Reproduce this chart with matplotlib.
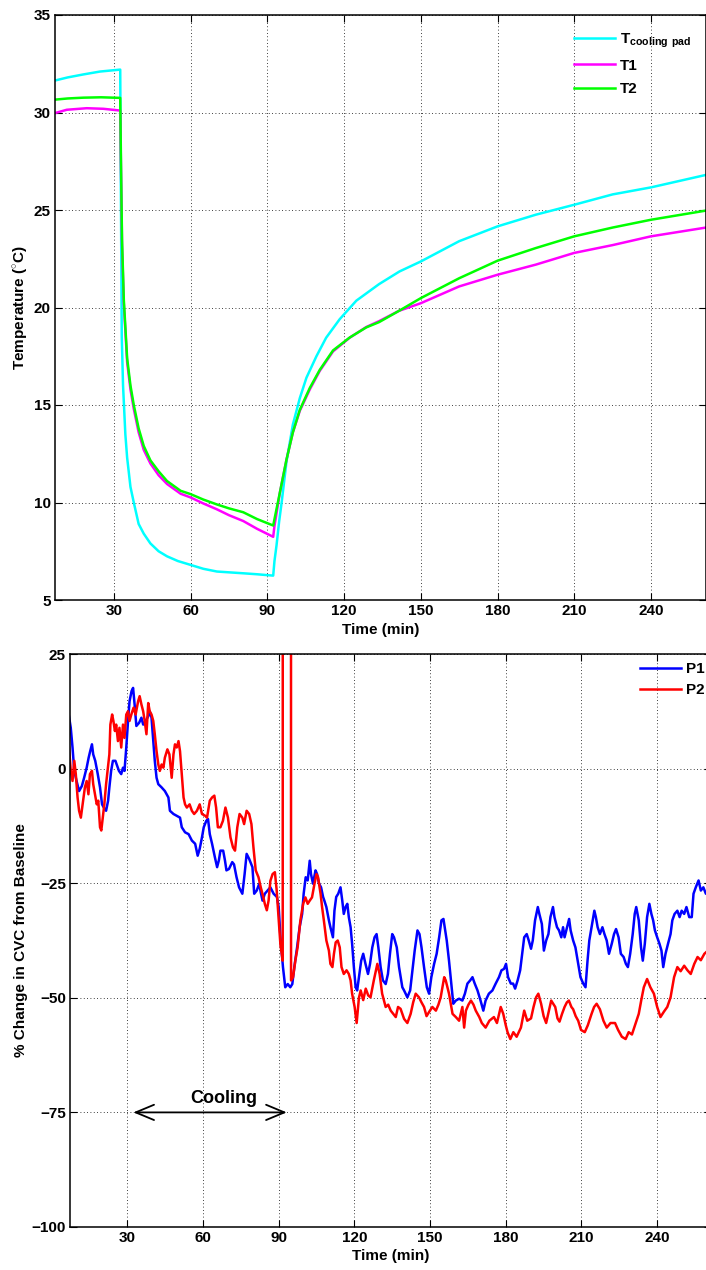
import matplotlib
matplotlib.use("Agg")
import matplotlib.pyplot as plt

plt.rcParams['font.family'] = ['Liberation Sans', 'DejaVu Sans']
plt.rcParams['font.weight'] = 'bold'
plt.rcParams['mathtext.fontset'] = 'custom'
plt.rcParams['mathtext.rm'] = 'Liberation Sans:bold'
plt.rcParams['mathtext.bf'] = 'Liberation Sans:bold'
plt.rcParams['axes.unicode_minus'] = True

# ---- top panel: temperatures (deg C) ----
t_pad = [7, 12, 18, 24.6, 32.5, 32.8, 33.1, 33.6, 34.5, 35.2, 36.5, 37.8, 39.7, 41.7,
         44.3, 47.5, 50.8, 55, 60, 65, 70.3, 80.6, 86, 92.3, 92.8, 93.6, 94.6, 95.6,
         97.5, 100, 102.7, 105.3, 109.2, 113, 118.3, 124.8, 133.7, 141.7, 150, 165,
         180, 195, 210, 225, 240, 261.5]
T_pad = [31.64, 31.8, 31.95, 32.1, 32.2, 25.0, 18.5, 16.0, 13.5, 12.3, 10.8, 10.0, 8.9, 8.4,
         7.9, 7.5, 7.24, 7.0, 6.8, 6.6, 6.46, 6.37, 6.32, 6.25, 7.0, 7.8, 9.0, 10.0,
         12.1, 14.0, 15.35, 16.4, 17.5, 18.45, 19.4, 20.35, 21.2, 21.85, 22.36, 23.4,
         24.16, 24.76, 25.27, 25.8, 26.16, 26.8]

t_T1 = [7, 11.6, 19.4, 25.9, 32.5, 32.7, 32.9, 33.2, 33.9, 35.2, 36.5, 37.8, 39.7, 41.7,
        44.3, 47.5, 50.8, 56.1, 60, 65, 70.3, 75, 80.6, 86, 92.3, 92.8, 94.9, 97.5, 100,
        102.7, 106.6, 110.5, 115.7, 122.2, 128.7, 133.7, 141.5, 150, 165, 180, 195, 210,
        225, 240, 261.5]
T1 = [29.97, 30.14, 30.22, 30.19, 30.1, 28.0, 26.2, 23.2, 20.2, 17.2, 15.8, 14.8, 13.6, 12.7,
      12.0, 11.4, 10.95, 10.45, 10.26, 9.95, 9.65, 9.35, 9.05, 8.65, 8.24, 8.8, 10.5, 12.2, 13.6,
      14.7, 15.8, 16.75, 17.75, 18.45, 19.0, 19.3, 19.83, 20.22, 21.08, 21.68, 22.2, 22.8,
      23.2, 23.65, 24.1]

t_T2 = [7, 12, 18, 25, 32.5, 32.7, 32.9, 33.2, 33.9, 35.2, 36.5, 37.8, 39.7, 41.7,
        44.3, 47.5, 50.8, 56.1, 60, 65, 70.3, 75, 80.6, 86, 92.3, 93.5, 94.9, 97.5, 100,
        102.7, 106.6, 110.5, 115.7, 122.2, 128.7, 133.7, 141.5, 150, 165, 180, 195, 210,
        225, 240, 261.5]
T2 = [30.66, 30.72, 30.76, 30.78, 30.75, 28.5, 26.4, 23.5, 20.4, 17.4, 16.0, 15.0, 13.8, 12.9,
      12.16, 11.6, 11.1, 10.6, 10.43, 10.15, 9.9, 9.7, 9.5, 9.15, 8.82, 9.6, 10.5, 12.2, 13.6,
      14.75, 15.87, 16.8, 17.8, 18.46, 18.98, 19.25, 19.83, 20.48, 21.5, 22.4, 23.05, 23.65,
      24.1, 24.5, 24.97]

# ---- bottom panel: % change in CVC ----
t_P1 = [6.9, 7.6, 8.3, 9.0, 9.9, 10.9, 12.0, 12.9, 13.9, 14.7, 15.3, 16.0, 16.5, 17.3, 18.3,
        19.2, 20.0, 20.7, 21.6, 22.4, 22.9, 23.6, 24.3, 25.3, 26.0, 26.7, 27.6, 28.3, 28.9,
        29.6, 30.3, 30.9, 31.7, 32.3, 32.9, 33.6, 34.7, 35.6, 36.3, 37.3, 38.3, 38.9, 39.6,
        40.3, 40.9, 41.6, 42.3, 43.6, 44.9, 46.3, 46.9, 48.3, 49.6, 50.9, 51.6, 52.9, 54.3,
        55.6, 56.9, 57.9, 58.7, 59.6, 60.3, 61.3, 62.0, 62.7, 63.6, 64.7, 65.6, 66.3, 66.9,
        68.0, 68.7, 69.3, 70.3, 71.6, 72.3, 73.3, 74.3, 75.6, 76.5, 77.3, 78.3, 79.6, 80.3,
        81.3, 82.3, 82.9, 83.6, 84.5, 85.6, 86.7, 88.0, 89.3, 90.0, 90.7, 91.7, 92.6, 93.6,
        94.6, 95.4, 96.2, 97.3, 98.3, 99.3, 99.9, 100.7, 101.5, 102.3, 102.8, 103.6, 104.6,
        105.2, 106.0, 106.8, 107.6, 108.1, 108.9, 109.9, 110.5, 111.5, 112.1, 112.8, 113.6,
        114.5, 115.2, 115.8, 116.5, 117.2, 117.8, 118.5, 119.1, 119.8, 120.5, 121.1, 121.8,
        122.7, 123.5, 124.4, 125.4, 126.2, 127.1, 128.0, 128.8, 129.5, 130.4, 131.3, 132.4,
        133.3, 134.1, 135.0, 135.7, 136.8, 137.7, 139.0, 139.7, 141.0, 142.1, 143.0, 143.9,
        145.0, 145.8, 146.6, 147.6, 148.7, 149.6, 150.5, 151.6, 152.6, 153.6, 154.5, 155.3,
        155.8, 156.6, 157.5, 158.4, 159.2, 160.2, 161.5, 162.8, 163.8, 164.8, 165.9, 166.8,
        167.7, 168.8, 170.0, 171.1, 172.0, 173.3, 174.7, 176.0, 177.3, 178.3, 179.3, 180.1,
        180.9, 182.0, 182.9, 183.7, 184.7, 185.7, 186.5, 187.3, 188.3, 189.1, 190.0, 190.7,
        191.6, 192.7, 193.3, 194.3, 195.1, 196.0, 196.9, 197.7, 198.7, 199.3, 200.3, 201.1,
        202.0, 202.7, 203.3, 204.3, 205.1, 205.7, 206.7, 207.6, 208.7, 209.6, 210.7, 211.6,
        212.4, 213.1, 214.0, 215.1, 215.7, 216.4, 217.3, 218.3, 219.1, 220.0, 220.9, 222.0,
        222.9, 223.7, 224.7, 225.6, 226.7, 227.6, 228.4, 229.3, 230.3, 231.1, 231.7, 232.7,
        233.6, 234.3, 235.1, 236.0, 236.9, 237.7, 238.4, 239.1, 240.0, 240.9, 241.7, 242.4,
        243.3, 244.3, 245.3, 246.0, 246.9, 248.0, 248.9, 249.7, 250.7, 251.6, 252.7, 253.7,
        254.4, 255.3, 256.4, 257.3, 258.3, 259.3, 260.1]
P1 = [11.4, 8.9, 4.6, -0.5, -2.7, -4.9, -3.8, -2.0, 0.2, 2.4, 3.8, 5.3, 3.1, 1.7, -1.2,
      -4.1, -7.8, -8.5, -9.2, -7.0, -4.1, -0.5, 1.7, 1.7, 0.6, -0.5, -1.2, 0.2, -0.5,
      4.6, 10.4, 14.7, 16.9, 17.6, 14.0, 9.3, 10.0, 11.1, 9.6, 10.4, 11.4, 12.5, 11.1,
      6.0, 1.7, -2.0, -3.4, -4.1, -4.9, -6.3, -9.2, -9.9, -10.3, -10.7, -12.8, -13.9, -14.3,
      -15.7, -16.4, -19.0, -17.5, -15.0, -12.8, -11.4, -11.0, -14.3, -16.4, -19.3, -21.5, -20.0, -17.9,
      -17.9, -20.0, -22.2, -21.9, -20.4, -20.9, -23.7, -25.9, -27.3, -23.0, -18.6, -19.7, -21.5, -27.3,
      -26.6, -25.1, -27.0, -28.8, -27.3, -26.6, -25.9, -27.3, -28.0, -30.2, -36.8, -43.3, -47.7, -47.0,
      -47.7, -47.0, -43.3, -39.0, -34.6, -31.7, -27.3, -23.7, -24.4, -20.1, -23.0, -25.1, -22.2,
      -23.0, -25.1, -25.9, -28.0, -28.8, -30.2, -33.1, -34.6, -36.8, -31.0, -28.0, -27.3,
      -25.9, -28.8, -31.7, -30.2, -29.5, -32.4, -34.6, -38.2, -43.3, -47.7, -48.4, -45.5,
      -41.9, -40.4, -42.6, -44.8, -42.6, -39.0, -36.8, -36.1, -39.0, -43.3, -46.2, -47.0,
      -44.8, -40.4, -36.1, -36.8, -39.0, -43.3, -47.7, -48.4, -49.9, -48.4, -44.0, -39.7,
      -35.3, -36.1, -39.0, -43.3, -47.7, -49.1, -45.5, -42.6, -40.4, -36.8, -33.1, -32.8,
      -34.6, -37.5, -41.9, -46.9, -51.3, -50.6, -50.2, -50.6, -49.1, -46.9, -46.2, -45.5,
      -46.9, -48.4, -50.6, -52.8, -50.6, -49.1, -48.4, -46.9, -45.5, -44.0, -43.7, -42.6,
      -45.5, -46.9, -46.9, -48.0, -46.2, -44.0, -40.4, -36.8, -36.1, -37.5, -39.3, -37.5,
      -33.1, -30.2, -31.7, -33.9, -39.7, -37.5, -36.1, -32.4, -30.2, -32.4, -34.6, -35.3,
      -36.8, -34.6, -36.8, -34.6, -32.8, -35.3, -37.5, -39.0, -42.6, -45.5, -46.9, -47.7,
      -41.9, -37.5, -34.6, -31.0, -32.4, -34.6, -36.1, -34.6, -36.1, -37.5, -40.4, -38.2,
      -36.1, -35.0, -36.8, -40.4, -41.1, -42.6, -43.3, -40.4, -36.1, -31.7, -30.2, -33.1,
      -39.0, -41.9, -38.2, -32.4, -29.5, -31.7, -33.1, -35.3, -36.8, -38.2, -39.7, -43.3,
      -40.4, -38.2, -36.1, -33.1, -31.7, -31.0, -32.4, -31.0, -31.7, -30.2, -32.4, -32.4,
      -27.3, -25.9, -24.4, -26.6, -25.9, -27.3, -26.6]

t_P2 = [6.9, 7.6, 8.3, 9.0, 9.6, 10.3, 10.9, 11.6, 12.3, 13.2, 13.9, 14.6, 15.2, 16.0, 16.5,
        17.2, 17.9, 18.5, 19.2, 19.7, 20.3, 20.9, 21.6, 22.3, 22.9, 23.3, 24.0, 24.5, 25.1,
        25.6, 26.3, 26.9, 27.6, 28.3, 28.9, 29.6, 30.3, 30.9, 31.6, 32.5, 33.3, 34.3, 34.9,
        35.6, 36.3, 36.9, 37.6, 38.3, 38.9, 39.6, 40.3, 40.9, 41.6, 42.3, 42.9, 43.6, 44.3,
        44.9, 45.9, 46.7, 47.6, 48.3, 48.9, 49.6, 50.3, 50.9, 51.6, 52.3, 52.9, 53.6, 54.7,
        55.6, 56.5, 57.6, 58.7, 59.6, 60.9, 61.6, 62.7, 63.6, 64.5, 65.2, 65.9, 66.9, 67.9,
        68.9, 69.9, 70.9, 71.9, 72.7, 73.6, 74.5, 75.6, 76.3, 77.3, 78.3, 79.2, 80.0, 80.9,
        82.0, 82.9, 83.9, 84.5, 85.3, 86.0, 86.7, 87.6, 88.5, 89.2, 89.9, 90.7, 91.6, 91.65,
        94.85, 94.9, 95.7, 96.6, 97.5, 98.6, 99.7, 100.6, 101.5, 102.3, 103.2, 104.2, 105.0,
        105.6, 106.6, 107.2, 107.9, 108.9, 109.9, 110.5, 111.3, 111.9, 112.6, 113.4, 114.2,
        114.9, 115.8, 116.9, 117.8, 118.5, 119.1, 120.1, 120.9, 121.8, 122.5, 123.5, 124.5,
        125.5, 126.4, 127.7, 129.1, 130.0, 131.0, 132.4, 133.4, 134.4, 135.4, 136.4, 137.3,
        138.3, 139.7, 141.0, 142.3, 143.3, 144.3, 145.6, 146.6, 147.6, 148.6, 149.6, 150.9,
        152.3, 153.3, 154.2, 155.6, 156.2, 157.5, 158.9, 160.2, 161.5, 162.8, 163.5, 164.2,
        165.2, 166.2, 167.2, 168.1, 169.5, 170.5, 172.0, 173.5, 175.3, 176.5, 178.0, 179.0,
        180.0, 180.7, 181.8, 183.0, 184.3, 186.0, 187.3, 188.5, 190.0, 191.0, 192.0, 192.9,
        194.0, 195.0, 196.0, 197.0, 198.0, 199.6, 200.5, 201.3, 202.3, 203.3, 204.2, 205.0,
        206.0, 206.7, 207.7, 208.7, 209.8, 211.3, 212.5, 214.0, 215.0, 216.0, 217.3, 218.7,
        220.0, 221.5, 223.3, 224.5, 226.0, 227.5, 228.7, 230.0, 231.5, 232.7, 233.7, 234.7,
        236.0, 237.3, 238.7, 240.0, 241.3, 242.7, 244.0, 245.3, 246.7, 248.0, 249.3, 250.7,
        252.0, 253.3, 254.7, 256.0, 257.3, 258.7, 260.1]
P2 = [4.6, -0.5, -2.7, 1.7, -1.2, -6.3, -9.2, -10.7, -7.8, -4.1, -2.7, -5.6, -1.2, -0.5, -3.4,
      -5.6, -7.8, -7.0, -12.8, -13.5, -10.7, -7.8, -3.4, 0.2, 3.1, 9.6, 11.8, 10.4, 8.2,
      9.6, 6.0, 8.9, 4.6, 9.6, 6.7, 11.8, 12.5, 10.4, 11.8, 13.3, 11.8, 14.7, 15.8,
      14.0, 12.5, 10.4, 7.5, 14.3, 12.5, 11.8, 10.4, 7.5, 3.8, 0.9, -0.5, 0.9, 0.2,
      2.4, 4.2, 3.1, -2.0, 3.1, 5.3, 4.6, 6.0, 3.8, -1.2, -6.3, -7.8, -8.5, -7.8,
      -9.2, -9.9, -9.2, -7.8, -9.9, -10.3, -10.7, -7.0, -6.3, -5.9, -8.5, -12.8, -12.8, -11.4,
      -8.5, -10.7, -15.0, -17.2, -17.9, -12.8, -9.9, -10.7, -12.1, -9.2, -9.9, -12.1, -17.2, -22.2,
      -23.7, -25.9, -28.0, -29.5, -30.9, -28.8, -24.5, -23.0, -22.6, -26.5, -32.0, -38.5, -41.9, 200.0,
      200.0, -46.2, -45.5, -41.9, -39.0, -33.1, -29.5, -28.1, -29.5, -28.8, -28.1, -25.1, -23.0,
      -23.7, -27.3, -30.2, -33.1, -37.5, -39.7, -42.6, -43.3, -40.4, -37.9, -37.5, -39.0,
      -43.3, -44.8, -44.0, -44.8, -46.2, -49.1, -52.0, -55.5, -50.0, -48.4, -50.5, -48.0,
      -49.5, -49.9, -46.2, -42.6, -44.8, -49.1, -52.0, -51.5, -52.8, -53.5, -54.2, -52.0,
      -52.4, -54.6, -55.5, -53.5, -51.0, -49.1, -49.9, -51.0, -52.0, -54.0, -53.1, -52.0,
      -52.8, -51.5, -49.9, -45.5, -46.2, -49.1, -53.5, -54.2, -55.0, -52.0, -56.5, -52.8,
      -51.5, -50.6, -51.5, -52.8, -54.2, -55.5, -56.5, -55.0, -54.2, -55.5, -52.0, -53.5,
      -56.0, -57.5, -59.0, -57.5, -58.5, -56.5, -52.8, -55.0, -54.5, -52.0, -49.9, -49.1,
      -51.3, -54.0, -55.5, -53.0, -50.6, -52.0, -54.5, -55.2, -53.5, -52.0, -51.0, -50.6,
      -52.0, -52.5, -54.0, -55.0, -57.0, -57.5, -56.0, -53.5, -52.0, -51.3, -52.5, -55.0,
      -56.5, -55.5, -55.5, -57.0, -58.5, -59.0, -57.5, -58.0, -55.5, -53.5, -50.5, -47.7,
      -45.9, -47.7, -49.1, -52.0, -54.2, -53.0, -52.0, -49.9, -45.5, -43.3, -44.2, -43.0,
      -44.0, -44.8, -42.6, -41.1, -41.8, -40.4, -39.7]

temp_ticks = [5, 10, 15, 20, 25, 30, 35]
cvc_ticks = [-100, -75, -50, -25, 0, 25]
time_ticks = [30, 60, 90, 120, 150, 180, 210, 240]

W, H = 706, 1270
fig = plt.figure(figsize=(W / 100, H / 100), dpi=100)


def style(ax):
    ax.grid(True, color='black', linestyle=(0, (1, 3)), linewidth=0.6)
    ax.tick_params(direction='in', top=True, right=True, length=5, width=0.8,
                   labelsize=11, pad=3)
    for lab in ax.get_xticklabels() + ax.get_yticklabels():
        lab.set_fontweight('bold')
    for s in ax.spines.values():
        s.set_linewidth(1.1)


# top panel
ax1 = fig.add_axes([55 / W, 1 - 600 / H, (706 - 55) / W, 585 / H])
ax1.plot(t_pad, T_pad, color=(0, 1, 1), lw=1.8, label=r'$\mathbf{T}_{\mathbf{cooling\ pad}}$')
ax1.plot(t_T1, T1, color=(1, 0, 1), lw=1.8, label='T1')
ax1.plot(t_T2, T2, color=(0, 1, 0), lw=1.8, label='T2')
ax1.set_xlim(7, 261.5)
ax1.set_ylim(5, 35)
ax1.set_xticks(time_ticks)
ax1.set_yticks(temp_ticks)
style(ax1)
ax1.set_xlabel('Time (min)', fontsize=11, fontweight='bold')
ax1.set_ylabel(r'Temperature ($^{\circ}$C)', fontsize=11, fontweight='bold')
ax1.xaxis.set_label_coords(0.5, -0.039)
ax1.yaxis.set_label_coords(-0.039, 0.5)
ax1.legend(loc='upper left', bbox_to_anchor=(574 / W, 1 - 31 / H),
           bbox_transform=fig.transFigure, frameon=False, borderpad=0, borderaxespad=0,
           handlelength=2.7, handletextpad=0.3, labelspacing=0.6,
           prop={'size': 11, 'weight': 'bold'})

# bottom panel
x0, x1 = 7.3, 261.5
left_px, px_per_min = 70, 75.7 / 30
ax2 = fig.add_axes([left_px / W, 1 - 1227 / H, (x1 - x0) * px_per_min / W, 573 / H])
ax2.plot(t_P1, P1, color=(0, 0, 1), lw=1.8, label='P1')
ax2.plot(t_P2, P2, color=(1, 0, 0), lw=1.8, label='P2')
ax2.set_xlim(x0, x1)
ax2.set_ylim(-100, 25)
ax2.set_xticks(time_ticks)
ax2.set_yticks(cvc_ticks)
style(ax2)
ax2.set_xlabel('Time (min)', fontsize=11, fontweight='bold')
ax2.set_ylabel('% Change in CVC from Baseline', fontsize=11, fontweight='bold')
ax2.xaxis.set_label_coords(320 / 641, -0.038)
ax2.yaxis.set_label_coords(-0.066, 0.5)
ax2.legend(loc='upper left', bbox_to_anchor=(640 / W, 1 - 662 / H),
           bbox_transform=fig.transFigure, frameon=False, borderpad=0, borderaxespad=0,
           handlelength=2.7, handletextpad=0.3, labelspacing=0.45,
           prop={'size': 11, 'weight': 'bold'})

ax2.annotate('', xy=(32.4, -75), xytext=(93.2, -75),
             arrowprops=dict(arrowstyle='<->,head_length=0.6,head_width=0.25', color='black',
                             lw=1.3, mutation_scale=22, shrinkA=0, shrinkB=0))
ax2.text(68.3, -73.8, 'Cooling', ha='center', va='bottom', fontsize=13, fontweight='bold')

fig.savefig('out.png', dpi=100)
